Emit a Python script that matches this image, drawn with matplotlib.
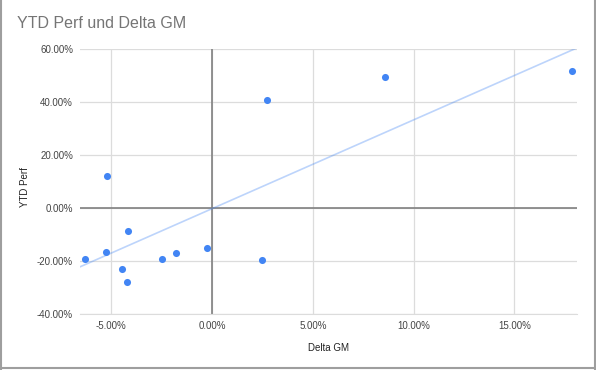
import numpy as np
import matplotlib
matplotlib.use("Agg")
import matplotlib.pyplot as plt
from matplotlib.ticker import FuncFormatter

# values (percent)
delta_gm = [-6.30, -5.19, -5.24, -4.15, -4.45, -4.24, -2.50, -1.80, -0.26,
            2.47, 2.73, 8.59, 17.85]
ytd_perf = [-19.2, 12.1, -16.5, -8.7, -22.9, -27.8, -19.1, -17.0, -15.0,
            -19.5, 40.8, 49.6, 51.6]
x_ticks = [-5, 0, 5, 10, 15]
y_ticks = [-40, -20, 0, 20, 40, 60]

plt.rcParams['font.family'] = ['Liberation Sans', 'DejaVu Sans']

W, H = 596, 370
fig = plt.figure(figsize=(W / 100, H / 100), dpi=100)
ax = fig.add_axes([80 / W, (H - 314) / H, (577 - 80) / W, (314 - 49) / H])

x = np.array(delta_gm)
y = np.array(ytd_perf)

ax.set_xlim(-6.55, 18.1)
ax.set_ylim(-40, 60)

# linear trendline across the whole axis range
slope, icpt = np.polyfit(x, y, 1)
xs = np.array(ax.get_xlim())
ax.plot(xs, slope * xs + icpt, color='#4285F4', alpha=0.35, lw=1.2, zorder=2)

ax.scatter(x, y, s=26, color='#4285F4', zorder=3, linewidths=0)

ax.set_xticks(x_ticks)
ax.set_yticks(y_ticks)
pct = FuncFormatter(lambda v, p: '{:.2f}%'.format(v))
ax.xaxis.set_major_formatter(pct)
ax.yaxis.set_major_formatter(pct)
ax.tick_params(length=0, labelsize=7, colors='#444444')
ax.tick_params(axis='x', pad=5)
ax.tick_params(axis='y', pad=5)

ax.grid(True, color='#dcdcdc', lw=0.9)
ax.set_axisbelow(True)
ax.axhline(0, color='#808080', lw=1.2, zorder=1)
ax.axvline(0, color='#808080', lw=1.2, zorder=1)
for s in ['top', 'right', 'left']:
    ax.spines[s].set_visible(False)
ax.spines['bottom'].set_color('#dcdcdc')

ax.set_xlabel('Delta GM', fontsize=7, color='#222222', labelpad=9)
ax.set_ylabel('YTD Perf', fontsize=7, color='#222222')
ax.yaxis.set_label_coords(-(80 - 30) / (577 - 80), 0.48)

fig.text(17 / W, 1 - 23 / H, 'YTD Perf und Delta GM', fontsize=11.5,
         color='#757575', va='center', ha='left')

# outer frame (left, right, bottom)
fig.add_artist(plt.Line2D([0.5 / W, 0.5 / W], [0, 1], color='#9e9e9e', lw=1.5,
                          transform=fig.transFigure))
fig.add_artist(plt.Line2D([595 / W, 595 / W], [0, 1], color='#9e9e9e', lw=1.5,
                          transform=fig.transFigure))
fig.add_artist(plt.Line2D([0, 1], [(H - 368) / H, (H - 368) / H], color='#9e9e9e',
                          lw=1.5, transform=fig.transFigure))

fig.savefig('out.png', dpi=100)
